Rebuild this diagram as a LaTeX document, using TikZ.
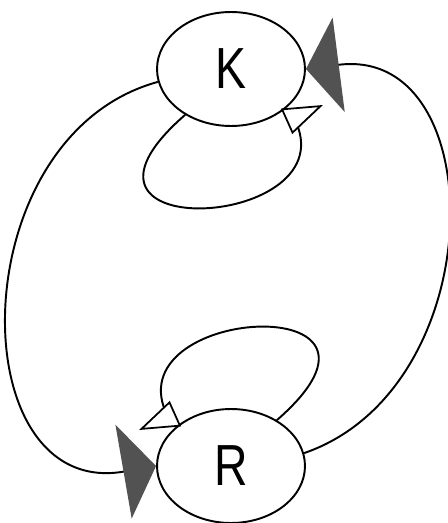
\documentclass[tikz,border=0pt]{standalone}
\usepackage{fontspec}
\usetikzlibrary{arrows.meta,shapes.geometric}
\newfontfamily\statefont{Liberation Sans}[FakeStretch=0.8]

\tikzset{
  statenode/.style={ellipse,draw,line width=1.1pt,fill=white,inner sep=0pt,
    minimum width=2.96cm,minimum height=2.28cm,font=\statefont\fontsize{33}{38}\selectfont},
  bigedge/.style={-{Triangle[length=0.66cm,width=1.9cm,fill=black!68,color=black!68]}},
  loopedge/.style={-{Triangle[length=0.8cm,width=0.55cm,fill=white,line width=1pt]}}
}

\begin{document}
\begin{tikzpicture}[x=0.02cm,y=-0.02cm,line width=1.1pt]
  \useasboundingbox (0,0) rectangle (448,523);
  % states
  \node[statenode] (K) at (231,69) {K};
  \node[statenode] (R) at (231,466) {R};
  % K -> R and R -> K
  \draw[bigedge] (K.190) .. controls (-40,136) and (-40,500) .. (R.west);
  \draw[bigedge] (R.10) .. controls (493,388) and (493,45) .. (K.east);
  % self loops
  \coordinate (Kin) at (323,105);
  \coordinate (Rin) at (139,430);
  \draw[loopedge] (K.225) .. controls (32,248) and (352,230) .. (294,118) -- (Kin);
  \draw[loopedge] (R.45) .. controls (430,287) and (110,305) .. (168,417) -- (Rin);
\end{tikzpicture}
\end{document}
